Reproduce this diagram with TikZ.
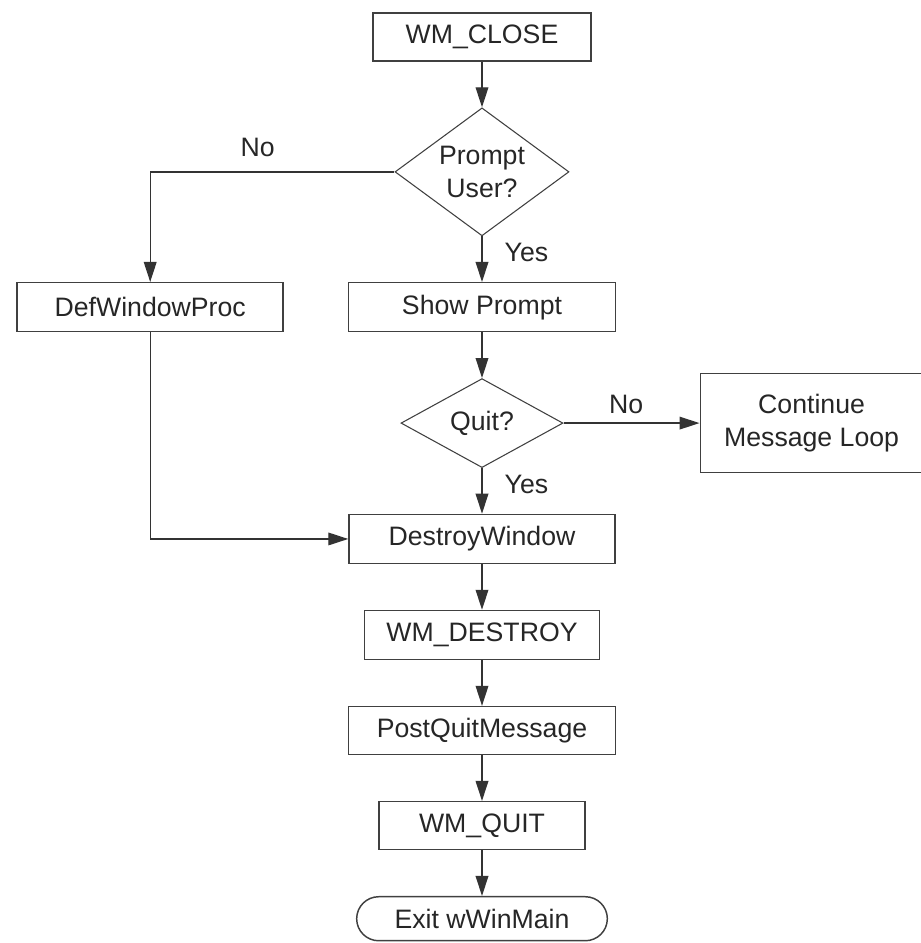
\documentclass[tikz,border=0pt]{standalone}
\usepackage{fontspec}
\setmainfont{Liberation Sans}
\usetikzlibrary{positioning,shapes.geometric,arrows.meta}
\tikzset{
  box/.style={draw=black!75, line width=1.1pt, rectangle, minimum height=36.75pt, inner sep=0pt},
  decision/.style={draw=black!75, line width=0.8pt, diamond, inner sep=0pt, align=center},
  flow/.style={-{Triangle[length=15pt,width=9.5pt]}, draw=black!80, line width=1pt},
  answer/.style={inner sep=0pt},
}

\begin{document}
\begin{tikzpicture}[node distance=34.2pt, font=\fontsize{20}{24.5}\selectfont, text=black!85]
    \useasboundingbox (0,0) rectangle (690.75pt,707.25pt);
    \node[box, minimum width=163.5pt, minimum height=36pt] (wm_close) at (361.5pt,679.5pt) {WM\_CLOSE};
    \node[decision, minimum width=130.5pt, minimum height=96pt, shape aspect=1.36, below = of wm_close] (prompt) {Prompt\\User?};
    \node[box, minimum width=200pt, below = of prompt] (show) {Show Prompt};
    \node[box, minimum width=199.5pt, left = 48pt of show] (defproc) {DefWindowProc};
    \node[decision, minimum width=121.5pt, minimum height=66.75pt, below = of show] (quit) {Quit?};
    \node[box, minimum width=167pt, minimum height=74.25pt, align=center, right = 102pt of quit] (cont) {Continue\\Message Loop};
    \node[box, minimum width=199.5pt, below = of quit] (destroy) {DestroyWindow};
    \node[box, minimum width=176pt, below = of destroy] (wm_destroy) {WM\_DESTROY};
    \node[box, minimum width=200pt, minimum height=36pt, below = of wm_destroy] (postquit) {PostQuitMessage};
    \node[box, minimum width=154.5pt, minimum height=36pt, below = of postquit] (wm_quit) {WM\_QUIT};
    \node[box, rounded corners=16.5pt, minimum width=188pt, minimum height=33pt, below = of wm_quit] (exit_main) {Exit wWinMain};
    %
    \draw[flow] (wm_close) -- (prompt);
    \draw[flow] (prompt.west) -| node[answer, above=10.5pt, pos=0.28] (prompt_no) {No} (defproc);
    \draw[flow] (prompt) -- node[answer, right=16.5pt, pos=0.35] (prompt_yes) {Yes} (show);
    \draw[flow] (show) -- (quit);
    \draw[flow] (quit) -- node[answer, above=6.75pt, pos=0.46] (quit_no) {No} (cont);
    \draw[flow] (quit) -- node[answer, right=16.5pt, pos=0.35] (quit_yes) {Yes} (destroy);
    \draw[flow] (defproc) |- (destroy);
    %
    \draw[flow] (destroy) -- (wm_destroy);
    \draw[flow] (wm_destroy) -- (postquit);
    \draw[flow] (postquit) -- (wm_quit);
    \draw[flow] (wm_quit) -- (exit_main);
  \end{tikzpicture}
\end{document}
